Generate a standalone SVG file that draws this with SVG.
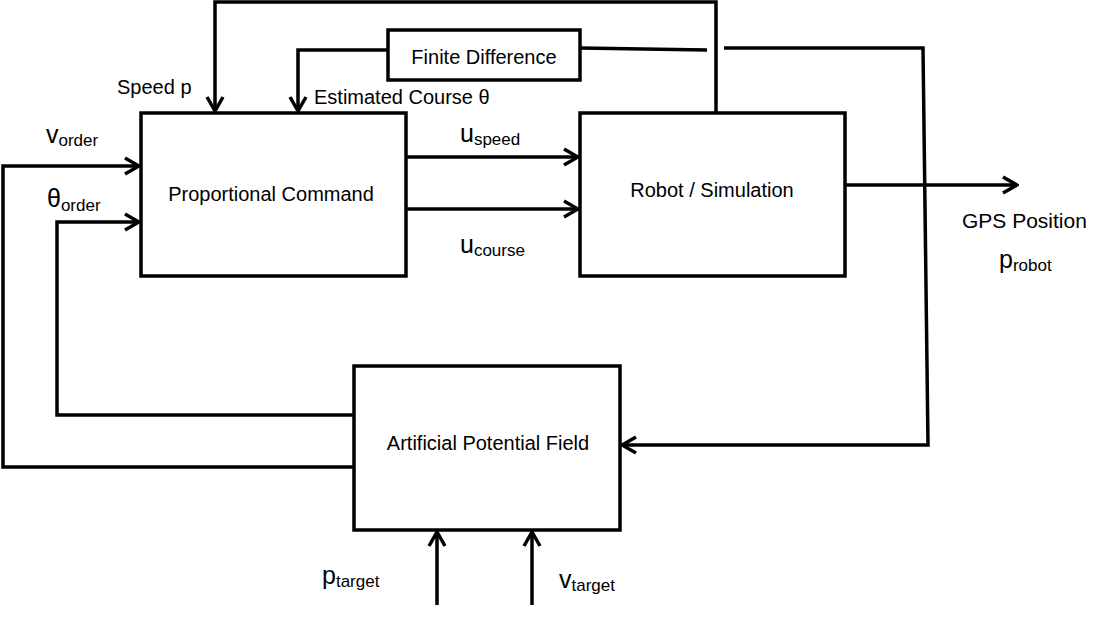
<svg xmlns="http://www.w3.org/2000/svg" width="1112" height="618" viewBox="0 0 1112 618">
<style>
.box{fill:#fff;stroke:#000;stroke-width:3.5}
.ln{fill:none;stroke:#000;stroke-width:3.5}
.t{font-family:"Liberation Sans",Arial,sans-serif;font-size:20px;fill:#000}
.b{font-size:25px}
.s{font-size:17px}
</style>
<defs>
<marker id="ah" viewBox="0 0 20 20" refX="18" refY="10" markerWidth="20" markerHeight="20" markerUnits="userSpaceOnUse" orient="auto">
<path d="M4,2 L18,10 L4,18" fill="none" stroke="#000" stroke-width="3.5"/>
</marker>
</defs>
<rect width="1112" height="618" fill="#fff"/>
<g id="connectors">
<polyline class="ln" points="716,113 716,2 215,2 215,111" marker-end="url(#ah)"/>
<polyline class="ln" points="388,50 298,50 298,111" marker-end="url(#ah)"/>
<line class="ln" x1="580" y1="48" x2="707" y2="50"/>
<polyline class="ln" points="724,48 923,48 928,445 622,445" marker-end="url(#ah)"/>
<line class="ln" x1="406" y1="157" x2="578" y2="157" marker-end="url(#ah)"/>
<line class="ln" x1="406" y1="209" x2="578" y2="209" marker-end="url(#ah)"/>
<line class="ln" x1="845" y1="185" x2="1017" y2="185" marker-end="url(#ah)"/>
<polyline class="ln" points="354,467 3,467 3,166 139,166" marker-end="url(#ah)"/>
<polyline class="ln" points="354,415 57,415 57,222 139,222" marker-end="url(#ah)"/>
<line class="ln" x1="437" y1="605" x2="437" y2="532" marker-end="url(#ah)"/>
<line class="ln" x1="532" y1="605" x2="532" y2="532" marker-end="url(#ah)"/>
</g>
<g id="prop">
<rect class="box" x="141" y="113" width="265" height="163"/>
<text class="t" x="271" y="201" text-anchor="middle">Proportional Command</text>
</g>
<g id="robot">
<rect class="box" x="580" y="113" width="265" height="163"/>
<text class="t" x="712" y="197" text-anchor="middle">Robot / Simulation</text>
</g>
<g id="fd">
<rect class="box" x="388" y="30" width="192" height="50"/>
<text class="t" x="484" y="64" text-anchor="middle">Finite Difference</text>
</g>
<g id="apf">
<rect class="box" x="354" y="366" width="266" height="164"/>
<text class="t" x="488" y="450" text-anchor="middle">Artificial Potential Field</text>
</g>
<g id="labels">
<text class="t" x="117" y="94">Speed p</text>
<text class="t" x="314" y="104">Estimated Course θ</text>
<text class="t" x="962" y="228" style="font-size:21px">GPS Position</text>
<text class="t" x="46" y="143"><tspan class="b">v</tspan><tspan class="s" dy="3">order</tspan></text>
<text class="t" x="47" y="207"><tspan class="b">θ</tspan><tspan class="s" dy="4">order</tspan></text>
<text class="t" x="460" y="142"><tspan class="b">u</tspan><tspan class="s" dy="3">speed</tspan></text>
<text class="t" x="460" y="253"><tspan class="b">u</tspan><tspan class="s" dy="3">course</tspan></text>
<text class="t" x="999" y="268"><tspan class="b">p</tspan><tspan class="s" dy="3">robot</tspan></text>
<text class="t" x="322" y="584"><tspan class="b">p</tspan><tspan class="s" dy="3">target</tspan></text>
<text class="t" x="559" y="588"><tspan class="b">v</tspan><tspan class="s" dy="3">target</tspan></text>
</g>
</svg>
